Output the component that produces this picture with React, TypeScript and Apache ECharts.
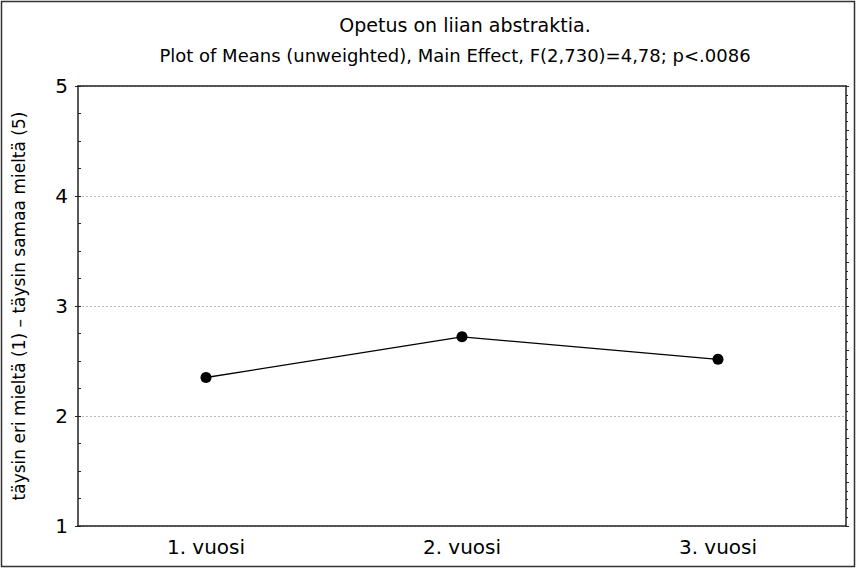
import React, { useEffect, useRef } from "react";
import * as echarts from "echarts";

const categories = ["1. vuosi", "2. vuosi", "3. vuosi"];
const means = [2.35, 2.72, 2.515];
const titleText = "Opetus on liian abstraktia.";
const subtitleText = "Plot of Means (unweighted), Main Effect, F(2,730)=4,78; p<.0086";
const yAxisTitle = "täysin eri mieltä (1) – täysin samaa mieltä (5)";

const FONT = "'DejaVu Sans', sans-serif";

export default function App() {
  const ref = useRef<HTMLDivElement>(null);
  useEffect(() => {
    if (!ref.current) return;
    const chart = echarts.init(ref.current, undefined, { renderer: "svg" });
    const axisColor = "#222";
    chart.setOption({
      animation: false,
      backgroundColor: "#fff",
      textStyle: { fontFamily: FONT },
      title: [
        {
          text: titleText,
          left: 460,
          top: 10,
          textAlign: "center",
          textStyle: { fontSize: 19, fontWeight: "normal", color: "#000", fontFamily: FONT },
        },
        {
          text: subtitleText,
          left: 450,
          top: 41,
          textAlign: "center",
          textStyle: { fontSize: 18, fontWeight: "normal", color: "#000", fontFamily: FONT },
        },
      ],
      graphic: [
        {
          type: "rect",
          shape: { x: 1.5, y: 1.5, width: 853, height: 565 },
          style: { fill: "none", stroke: "#333", lineWidth: 1.5 },
          silent: true,
        },
      ],
      grid: { left: 78, right: 11, top: 86, bottom: 42 },
      xAxis: [
        {
          type: "category",
          data: categories,
          boundaryGap: true,
          position: "bottom",
          axisLine: { lineStyle: { color: axisColor, width: 1.5 } },
          axisTick: { alignWithLabel: true, inside: true, length: 4, lineStyle: { color: axisColor } },
          axisLabel: { fontSize: 20, color: "#000", margin: 11, fontFamily: FONT },
          splitLine: { show: false },
        },
        {
          type: "category",
          data: categories,
          boundaryGap: true,
          position: "top",
          axisLine: { lineStyle: { color: axisColor, width: 1.5 } },
          axisTick: { alignWithLabel: true, inside: false, length: 4, lineStyle: { color: axisColor } },
          axisLabel: { show: false },
          splitLine: { show: false },
        },
      ],
      yAxis: [
        {
          type: "value",
          min: 1,
          max: 5,
          interval: 1,
          position: "left",
          name: yAxisTitle,
          nameLocation: "middle",
          nameRotate: 90,
          nameGap: 51,
          nameTextStyle: { fontSize: 17, color: "#000", fontFamily: FONT },
          axisLine: { show: true, lineStyle: { color: axisColor, width: 1.5 } },
          axisTick: { show: true, inside: false, length: 3, lineStyle: { color: axisColor } },
          axisLabel: { fontSize: 20, color: "#000", margin: 10, fontFamily: FONT },
          splitLine: { show: true, lineStyle: { color: "#bbb", type: [2, 2], width: 1 } },
        },
        {
          type: "value",
          min: 1,
          max: 5,
          interval: 0.25,
          position: "left",
          axisLine: { show: false },
          axisTick: { show: true, inside: true, length: 3, lineStyle: { color: axisColor } },
          axisLabel: { show: false },
          splitLine: { show: false },
        },
        {
          type: "value",
          min: 0,
          max: 10,
          interval: 1,
          position: "right",
          axisLine: { show: true, lineStyle: { color: axisColor, width: 1.5 } },
          axisTick: { show: true, inside: false, length: 3, lineStyle: { color: axisColor } },
          minorTick: { show: true, splitNumber: 5, length: 2, lineStyle: { color: axisColor } },
          axisLabel: { show: false },
          splitLine: { show: false },
        },
      ],
      series: [
        {
          type: "line",
          data: means,
          xAxisIndex: 0,
          yAxisIndex: 0,
          symbol: "circle",
          symbolSize: 11,
          lineStyle: { color: "#000", width: 1.3 },
          itemStyle: { color: "#000" },
          z: 5,
        },
      ],
    });
    return () => chart.dispose();
  }, []);
  return (
    <div
      ref={ref}
      style={{ position: "fixed", left: 0, top: 0, width: 857, height: 568 }}
    />
  );
}
